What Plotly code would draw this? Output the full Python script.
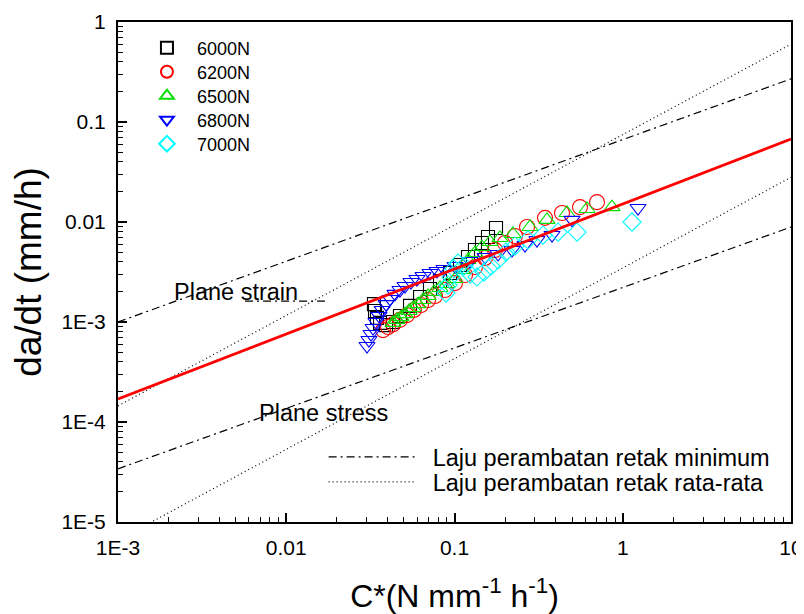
import plotly.graph_objects as go

# ---- measured data (C* in N mm^-1 h^-1, da/dt in mm/h) ----
c_6000 = [0.0332, 0.0337, 0.0346, 0.0361, 0.0392, 0.0431, 0.0474, 0.0544, 0.0624, 0.0715,
          0.0820, 0.0940, 0.1078, 0.1203, 0.1323, 0.1457, 0.1581, 0.1765]
r_6000 = [1.51e-3, 1.29e-3, 1.10e-3, 9.8e-4, 9.3e-4, 1.0e-3, 1.15e-3, 1.45e-3, 1.78e-3, 2.14e-3,
          2.57e-3, 3.09e-3, 3.72e-3, 4.47e-3, 5.25e-3, 6.17e-3, 7.08e-3, 8.71e-3]

c_6200 = [0.0376, 0.0403, 0.0431, 0.0474, 0.0522, 0.0574, 0.0632, 0.0696, 0.0766, 0.0878, 0.1007,
          0.1155, 0.1323, 0.1518, 0.1740, 0.1996, 0.2289, 0.2698, 0.345, 0.4355, 0.557, 0.703]
r_6200 = [8.3e-4, 8.9e-4, 9.5e-4, 1.05e-3, 1.17e-3, 1.32e-3, 1.48e-3, 1.66e-3, 1.82e-3, 2.09e-3, 2.45e-3,
          2.95e-3, 3.55e-3, 4.37e-3, 5.25e-3, 6.17e-3, 7.24e-3, 8.91e-3, 1.10e-2, 1.23e-2, 1.41e-2, 1.58e-2]

c_6500 = [0.0431, 0.0455, 0.0481, 0.0508, 0.0537, 0.0567, 0.0607, 0.0650, 0.0696, 0.0755, 0.0820, 0.0902,
          0.1007, 0.1108, 0.1203, 0.1323, 0.1457, 0.1626, 0.1864, 0.2227, 0.281, 0.3547, 0.4663, 0.613, 0.863]
r_6500 = [9.8e-4, 1.05e-3, 1.12e-3, 1.20e-3, 1.29e-3, 1.38e-3, 1.51e-3, 1.66e-3, 1.82e-3, 2.0e-3, 2.19e-3, 2.40e-3,
          2.69e-3, 3.31e-3, 4.17e-3, 4.90e-3, 5.62e-3, 6.31e-3, 6.92e-3, 7.59e-3, 8.91e-3, 1.05e-2, 1.23e-2, 1.35e-2, 1.41e-2]

c_6800 = [0.0302, 0.0310, 0.0319, 0.0328, 0.0341, 0.0356, 0.0371, 0.0392, 0.0414, 0.0443, 0.0474, 0.0508, 0.0551,
          0.0598, 0.0650, 0.0715, 0.0787, 0.0866, 0.1007, 0.1237, 0.1518, 0.1814, 0.2197, 0.2624, 0.309, 0.3798,
          0.4995, 1.232]
r_6800 = [5.75e-4, 6.61e-4, 7.59e-4, 8.71e-4, 1.0e-3, 1.15e-3, 1.32e-3, 1.51e-3, 1.70e-3, 1.91e-3, 2.09e-3, 2.29e-3, 2.51e-3,
          2.69e-3, 2.88e-3, 3.09e-3, 3.24e-3, 3.39e-3, 3.63e-3, 4.07e-3, 4.47e-3, 4.79e-3, 5.25e-3, 5.89e-3, 6.61e-3, 7.41e-3,
          1.05e-2, 1.38e-2]

c_7000 = [0.0890, 0.0915, 0.0953, 0.0993, 0.1049, 0.1139, 0.1237, 0.1360, 0.1497, 0.1647, 0.1814, 0.2024,
          0.2289, 0.2734, 0.3357, 0.4124, 0.5348, 1.135]
r_7000 = [1.95e-3, 2.34e-3, 2.82e-3, 3.39e-3, 3.89e-3, 3.63e-3, 3.02e-3, 2.82e-3, 3.16e-3, 3.63e-3, 4.17e-3, 5.01e-3,
          5.75e-3, 6.61e-3, 7.41e-3, 7.94e-3, 7.94e-3, 1.0e-2]

# reference lines (end points at C* = 1E-3 and 10)
line_c = [0.001, 10]
fit_line = [1.70e-4, 0.0676]
strain_min = [1.0e-3, 0.27]
stress_min = [3.4e-5, 8.9e-3]
strain_avg = [1.45e-4, 0.60]
stress_avg = [6.6e-6, 0.028]

# short dash-dot stroke next to the "Plane strain" label
strain_mark_c = [0.00569, 0.0170]
strain_mark_r = [1.62e-3, 1.62e-3]

series = [
    ("6000N", c_6000, r_6000, "square-open", "black", 13),
    ("6200N", c_6200, r_6200, "circle-open", "red", 15),
    ("6500N", c_6500, r_6500, "triangle-up-open", "#00e000", 14),
    ("6800N", c_6800, r_6800, "triangle-down-open", "blue", 14),
    ("7000N", c_7000, r_7000, "diamond-open", "cyan", 14),
]

FONT = "Liberation Sans, Arial, sans-serif"
DASHDOT = "8px,4px,2px,4px"
DOT = "1px,3px"
NB = "\u00a0"

fig = go.Figure()

# dash-dot (minimum) lines
fig.add_trace(go.Scatter(x=line_c, y=strain_min, mode="lines", line=dict(color="black", width=1.2, dash=DASHDOT),
                         name=NB * 2 + "Laju perambatan retak minimum", legend="legend6", showlegend=True))
fig.add_trace(go.Scatter(x=line_c, y=stress_min, mode="lines", line=dict(color="black", width=1.2, dash=DASHDOT),
                         showlegend=False))
# dotted (average) lines
fig.add_trace(go.Scatter(x=line_c, y=strain_avg, mode="lines", line=dict(color="black", width=1.2, dash=DOT),
                         name=NB * 2 + "Laju perambatan retak rata-rata", legend="legend7", showlegend=True))
fig.add_trace(go.Scatter(x=line_c, y=stress_avg, mode="lines", line=dict(color="black", width=1.2, dash=DOT),
                         showlegend=False))
fig.add_trace(go.Scatter(x=strain_mark_c, y=strain_mark_r, mode="lines",
                         line=dict(color="black", width=1.2, dash=DASHDOT), showlegend=False))

legend_names = ["legend", "legend2", "legend3", "legend4", "legend5"]
for (name, cx, ry, sym, col, sz), lg in zip(series, legend_names):
    fig.add_trace(go.Scatter(x=cx, y=ry, mode="markers", name=NB * 2 + name, legend=lg,
                             marker=dict(symbol=sym, size=sz, color=col, line=dict(color=col, width=1.1))))

fig.add_trace(go.Scatter(x=line_c, y=fit_line, mode="lines", line=dict(color="red", width=2.8), showlegend=False))

# legends
row_y = [0.948, 0.900, 0.852, 0.804, 0.756]
leg_common = dict(x=0.043, xanchor="left", yanchor="middle", bgcolor="rgba(0,0,0,0)",
                  font=dict(family=FONT, size=18, color="black"), itemsizing="constant")
layout_legends = {}
for lg, yy in zip(legend_names, row_y):
    layout_legends[lg] = dict(y=yy, **leg_common)
line_leg = dict(x=0.3055, xanchor="left", yanchor="middle", bgcolor="rgba(0,0,0,0)",
                font=dict(family=FONT, size=23.5, color="black"), itemwidth=86)
layout_legends["legend6"] = dict(y=0.13, **line_leg)
layout_legends["legend7"] = dict(y=0.08, **line_leg)

minor_x = [m * 10 ** e for e in range(-3, 1) for m in range(2, 10)]
minor_y = [m * 10 ** e for e in range(-5, 0) for m in range(2, 10)]

axis_common = dict(type="log", showgrid=False, zeroline=False, showline=True, linecolor="black", linewidth=2,
                   mirror=True, ticks="inside", ticklen=9, tickwidth=1.5, tickcolor="black", automargin=False,
                   tickfont=dict(family=FONT, size=21, color="black"), ticklabelstandoff=6)

fig.update_layout(
    width=804, height=614,
    margin=dict(l=110, r=21, t=14, b=100),
    paper_bgcolor="white", plot_bgcolor="white",
    font=dict(family=FONT, color="black"),
    xaxis=dict(range=[-3, 1], tickmode="array", tickvals=[0.001, 0.01, 0.1, 1, 10],
               ticktext=["1E-3", "0.01", "0.1", "1", "10"],
               minor=dict(tickmode="array", tickvals=minor_x, ticks="inside", ticklen=5, tickwidth=1.2,
                          tickcolor="black", showgrid=False),
               title=dict(text="C*(N mm<sup>-1</sup> h<sup>-1</sup>)", font=dict(family=FONT, size=32), standoff=26),
               **axis_common),
    yaxis=dict(range=[-5, 0], tickmode="array", tickvals=[1e-5, 1e-4, 1e-3, 0.01, 0.1, 1],
               ticktext=["1E-5", "1E-4", "1E-3", "0.01", "0.1", "1"],
               minor=dict(tickmode="array", tickvals=minor_y, ticks="inside", ticklen=5, tickwidth=1.2,
                          tickcolor="black", showgrid=False),
               title=dict(text="da/dt (mm/h)", font=dict(family=FONT, size=37), standoff=11),
               **axis_common),
    annotations=[
        dict(x=-2.679, y=-2.70, xref="x", yref="y", text="Plane strain", showarrow=False,
             xanchor="left", yanchor="middle", font=dict(family=FONT, size=23.5, color="black")),
        dict(x=-2.174, y=-3.91, xref="x", yref="y", text="Plane stress", showarrow=False,
             xanchor="left", yanchor="middle", font=dict(family=FONT, size=23.5, color="black")),
    ],
    **layout_legends,
)

fig.write_html("out.html")
